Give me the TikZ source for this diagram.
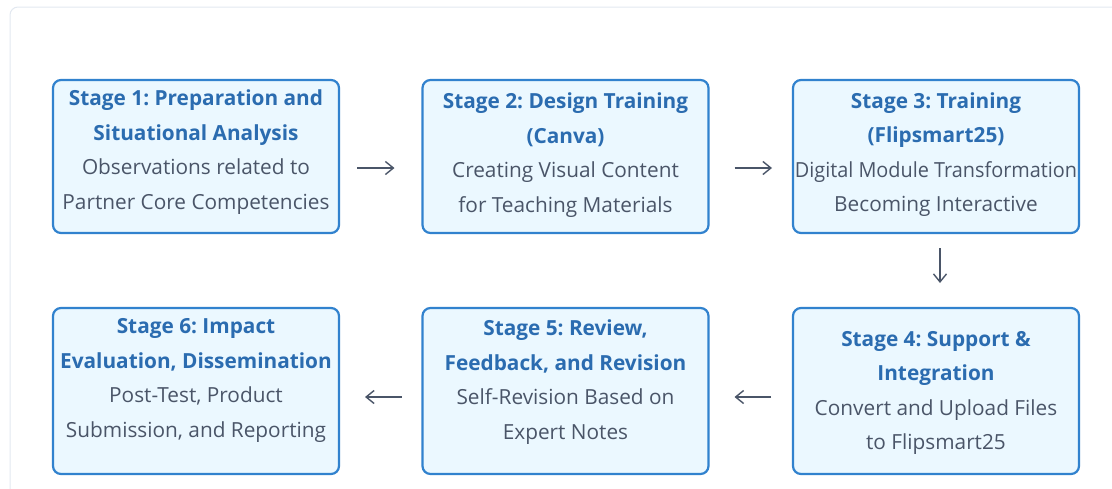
\documentclass[tikz,border=0pt]{standalone}
\usepackage{fontspec}
\setmainfont{Open Sans}
\usetikzlibrary{arrows.meta}
\frenchspacing
\definecolor{cardline}{HTML}{E2E8F0}
\definecolor{boxline}{HTML}{3182CE}
\definecolor{boxfill}{HTML}{EBF8FF}
\definecolor{titleblue}{HTML}{2B6CB0}
\definecolor{bodygray}{HTML}{4A5568}
\newcommand{\hd}[1]{{\bfseries\color{titleblue}#1}}
\begin{document}
\begin{tikzpicture}[x=1pt,y=-1pt,
  stagebox/.style={draw=boxline, line width=2.2pt, fill=boxfill, rounded corners=8pt,
    minimum width=286pt, inner sep=0pt, outer sep=0pt},
  toprow/.style={stagebox, minimum height=153pt},
  botrow/.style={stagebox, minimum height=166pt},
  stagetext/.style={align=center, font=\fontsize{20.8}{34.6}\selectfont, text=bodygray, inner sep=0pt},
  flow/.style={draw=bodygray, line width=1.4pt, -{Straight Barb[length=8pt,width=13pt]}}]
\useasboundingbox (0,0) rectangle (1112,488);
\clip (0,0) rectangle (1112,488);
% outer card
\draw[cardline, line width=1pt, fill=white, rounded corners=8pt] (10,7) rectangle (1140,520);

% stage boxes
\node[toprow] (s1) at (196,156.5) {};
\node[toprow] (s2) at (565.5,156.5) {};
\node[toprow] (s3) at (936,156.5) {};
\node[botrow] (s4) at (936,391) {};
\node[botrow] (s5) at (565.5,391) {};
\node[botrow] (s6) at (196,391) {};

% stage texts
\node[stagetext] (t1) at (196,152) {\hd{Stage 1: Preparation and}\\\hd{Situational Analysis}\\Observations related to\\Partner Core Competencies};
\node[stagetext] (t2) at (565.5,155) {\hd{Stage 2: Design Training}\\\hd{(Canva)}\\Creating Visual Content\\for Teaching Materials};
\node[stagetext] (t3) at (936,154.5) {\hd{Stage 3: Training}\\\hd{(Flipsmart25)}\\\scalebox{0.955}[1]{Digital Module Transformation}\\Becoming Interactive};
\node[stagetext] (t4) at (936,393) {\hd{Stage 4: Support \&}\\\hd{Integration}\\Convert and Upload Files\\to Flipsmart25};
\node[stagetext] (t5) at (565.5,382) {\hd{Stage 5: Review,}\\\hd{Feedback, and Revision}\\Self-Revision Based on\\Expert Notes};
\node[stagetext] (t6) at (196,380.5) {\hd{Stage 6: Impact}\\\hd{Evaluation, Dissemination}\\Post-Test, Product\\Submission, and Reporting};

% flow arrows
\draw[flow, shorten <=18pt, shorten >=28pt] ([yshift=-11.5pt]s1.east) -- ([yshift=-11.5pt]s2.west);
\draw[flow, shorten <=26pt, shorten >=21pt] ([yshift=-11.5pt]s2.east) -- ([yshift=-11.5pt]s3.west);
\draw[flow, shorten <=15pt, shorten >=25pt] ([xshift=4pt]s3.south) -- ([xshift=4pt]s4.north);
\draw[flow, shorten <=22pt, shorten >=26pt] ([yshift=-6pt]s4.west) -- ([yshift=-6pt]s5.east);
\draw[flow, shorten <=21pt, shorten >=26pt] ([yshift=-6pt]s5.west) -- ([yshift=-6pt]s6.east);
\end{tikzpicture}
\end{document}
